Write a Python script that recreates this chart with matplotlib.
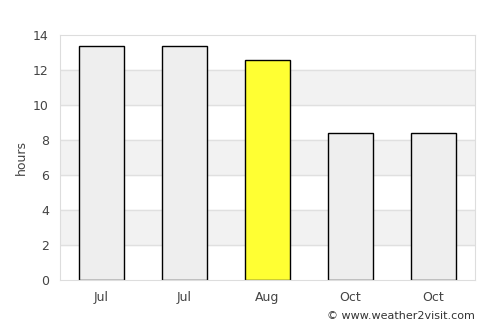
import matplotlib.pyplot as plt

months = ['Jul', 'Jul', 'Aug', 'Oct', 'Oct']
hours = [13.4, 13.4, 12.6, 8.4, 8.4]
colors = ['#eeeeee', '#eeeeee', '#ffff33', '#eeeeee', '#eeeeee']

fig = plt.figure(figsize=(5, 3.25), dpi=100)
ax = fig.add_axes([0.12, 0.1385, 0.83, 0.7535])

# alternating bands
for lo in [2, 6, 10]:
    ax.axhspan(lo, lo + 2, color='#f2f2f2', zorder=0)
for y in range(2, 14, 2):
    ax.axhline(y, color='#e0e0e0', linewidth=1, zorder=1)

x = list(range(len(months)))
ax.bar(x, hours, width=0.54, color=colors, edgecolor='black', linewidth=1, zorder=2)

ax.set_xlim(-0.5, len(months) - 0.5)
ax.set_ylim(0, 14)
ax.set_yticks(range(0, 15, 2))
ax.set_xticks(x)
ax.set_xticklabels(months)
ax.tick_params(length=0, labelsize=9, colors='#444444', pad=8)
ax.set_ylabel('hours', fontsize=9, color='#444444', labelpad=4)
for s in ax.spines.values():
    s.set_color('#dddddd')

fig.text(0.95, 0.012, '© www.weather2visit.com', ha='right', va='bottom', fontsize=8, color='#333333')
fig.savefig('out.png', dpi=100)
